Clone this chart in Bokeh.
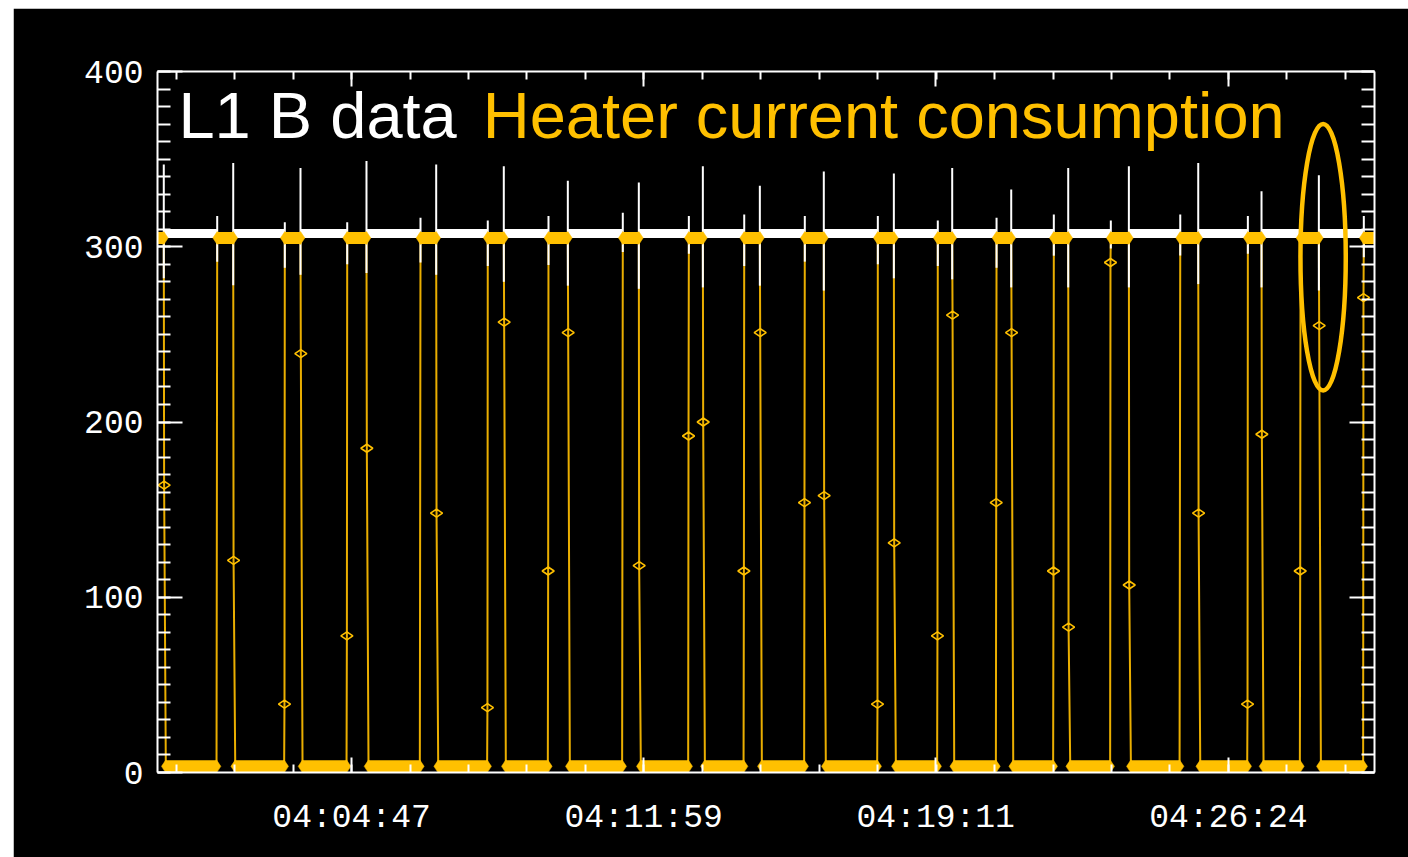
import math
from bokeh.plotting import figure
from bokeh.models import (Range1d, FixedTicker, SingleIntervalTicker, LinearAxis, Label,
                          Spacer, CustomJSTickFormatter)
from bokeh.layouts import row, column
from bokeh.embed import file_html
from bokeh.resources import INLINE

# ---------------- data (x = seconds after 04:00:00) ----------------
x_start, x_end = 0, 1800
y_start, y_end = 0, 400

on_level = 305.0      # heater current when ON
off_level = 3.5       # heater current when OFF
white_level = 307.5   # L1 B data level

# heater switching instants (s)
fall_times = [9.3, 112.0, 211.5, 309.1, 412.2, 512.2, 606.9, 711.9, 806.6, 890.9,
              985.5, 1089.1, 1175.4, 1262.7, 1347.0, 1436.7, 1539.3, 1632.9, 1717.7]
rise_times = [88.3, 188.3, 280.6, 389.0, 488.5, 578.3, 688.2, 785.9, 867.8, 957.4,
              1065.4, 1154.1, 1241.0, 1325.7, 1410.0, 1512.7, 1612.7, 1690.6, 1784.2]
# intermediate current samples caught during the switching (None = none)
fall_mid = [164, 121, 239, 185, 148, 257, 251, 118, 200, 251,
            158, 131, 261, 251, 83, 107, 148, 193, 255]
rise_mid = [None, 39, 78, None, 37, 115, None, 192, 115, 154,
            39, 78, 154, 115, 291, None, 39, 115, 271]

# L1 B data glitches at each switching instant
rise_spike_top = [317.5, 314, 314, 316.5, 315, 317.5, 319.4, 317.5, 318.4, 317.5,
                  317.5, 315, 316.5, 318.4, 315, 318.4, 317.5, 316, 317.5]
rise_spike_bottom = [291.5, 288, 290, 291, 289, 289.6, 297, 296, 289, 291.5,
                     290, 289, 288, 294.9, 299, 295, 296, 290, 294]
fall_spike_top = [347, 347.8, 345, 349, 347, 346, 337.6, 336.6, 346, 334.8,
                  343, 341.8, 345, 332.7, 345, 346, 347.8, 331.7, 340.8]
fall_spike_bottom = [282, 278, 284, 285, 284, 280, 277.8, 276, 276.8, 277.8,
                     275, 282, 281.4, 276.8, 276.8, 276.8, 278.7, 276.8, 275]

x_major_ticks = [287, 719, 1151, 1584]
x_major_labels = ["04:04:47", "04:11:59", "04:19:11", "04:26:24"]

title_white = "L1 B data"
title_orange = "Heater current consumption"

highlight_x = [1724]
highlight_y = [294]
highlight_w = [67]
highlight_h = [152]

# ---------------- styling ----------------
ORANGE = "#FFC000"
ORANGE_LINE = "#EAAE00"
WHITE = "#FFFFFF"
TICK_FONT = "Liberation Mono"

p = figure(width=1395, height=849, output_backend="svg", toolbar_location=None,
           x_range=Range1d(x_start, x_end), y_range=Range1d(y_start, y_end),
           min_border_left=144, min_border_right=34, min_border_top=63,
           min_border_bottom=85, background_fill_color="black",
           border_fill_color="black", outline_line_color=None,
           x_axis_location=None, y_axis_location=None)
p.grid.visible = False

# ---------------- build series ----------------
ox, oy = [x_start], [on_level]
on_segs = [(x_start, fall_times[0])]
off_segs = []
end_pts_x, end_pts_y = [], []
mid_x, mid_y = [], []
for i, tf in enumerate(fall_times):
    ox.append(tf); oy.append(on_level)
    if fall_mid[i] is not None:
        ox.append(tf + 0.5); oy.append(fall_mid[i])
        mid_x.append(tf + 0.5); mid_y.append(fall_mid[i])
    off_a = tf + 3
    ox.append(off_a); oy.append(off_level)
    tr = rise_times[i]
    off_b = tr - 1
    ox.append(off_b); oy.append(off_level)
    off_segs.append((off_a, off_b))
    if rise_mid[i] is not None:
        ox.append(tr - 0.5); oy.append(rise_mid[i])
        mid_x.append(tr - 0.5); mid_y.append(rise_mid[i])
    ox.append(tr); oy.append(on_level)
    nxt = fall_times[i + 1] if i + 1 < len(fall_times) else x_end
    on_segs.append((tr, nxt))
ox.append(x_end); oy.append(on_level)

# orange connecting line (drawn first)
p.line(ox, oy, line_color=ORANGE_LINE, line_width=2)

# white L1 B data: band during OFF periods
p.segment(x0=fall_times, y0=[white_level] * len(fall_times),
          x1=rise_times, y1=[white_level] * len(rise_times),
          line_color=WHITE, line_width=9, line_cap="butt")
# glitches
sx = rise_times + fall_times
stop = rise_spike_top + fall_spike_top
sbot = rise_spike_bottom + fall_spike_bottom
p.segment(x0=sx, y0=stop, x1=sx, y1=sbot, line_color=WHITE, line_width=2)

# orange dense sample plateaus
for segs, lvl in ((on_segs, on_level), (off_segs, off_level)):
    p.segment(x0=[a for a, b in segs], y0=[lvl] * len(segs),
              x1=[b for a, b in segs], y1=[lvl] * len(segs),
              line_color=ORANGE, line_width=12, line_cap="butt")
    for a, b in segs:
        end_pts_x += [a, b]
        end_pts_y += [lvl, lvl]
p.scatter(end_pts_x, end_pts_y, marker="diamond", size=13, fill_color=ORANGE,
          line_color=ORANGE, line_width=0.5)

# isolated samples
p.scatter(mid_x, mid_y, marker="diamond", size=12, angle=math.pi / 2,
          fill_color=None, line_color=ORANGE, line_width=1.6)

# highlight ellipse
p.ellipse(x=highlight_x, y=highlight_y, width=highlight_w, height=highlight_h,
          fill_color=None, line_color=ORANGE, line_width=4.5)

# titles
p.add_layout(Label(x=31, y=375, text=title_white, text_color=WHITE,
                   text_font="Liberation Sans", text_font_size="65px",
                   text_baseline="alphabetic"))
p.add_layout(Label(x=481, y=375, text=title_orange, text_color=ORANGE,
                   text_font="Liberation Sans", text_font_size="65px",
                   text_baseline="alphabetic"))

# ---------------- axes ----------------
minor_step = (x_major_ticks[-1] - x_major_ticks[0]) / (len(x_major_ticks) - 1) / 5
minors = []
k = -10
while True:
    v = x_major_ticks[0] + k * minor_step
    if v > x_end:
        break
    if v >= x_start:
        minors.append(v)
    k += 1
xticker = FixedTicker(ticks=x_major_ticks, minor_ticks=minors)
yticker = SingleIntervalTicker(interval=100, num_minor_ticks=10)
blank = CustomJSTickFormatter(code="return ''")


def style(ax, major_in, minor_in, show_labels):
    ax.axis_line_color = WHITE
    ax.axis_line_width = 2
    ax.major_tick_line_color = WHITE
    ax.minor_tick_line_color = WHITE
    ax.major_tick_line_width = 2
    ax.minor_tick_line_width = 2
    ax.major_tick_in = major_in
    ax.major_tick_out = 0
    ax.minor_tick_in = minor_in
    ax.minor_tick_out = 0
    if show_labels:
        ax.major_label_text_color = WHITE
        ax.major_label_text_font = TICK_FONT
        ax.major_label_text_font_size = "33px"
    else:
        ax.formatter = blank
        ax.major_label_standoff = 0


xb = LinearAxis(ticker=xticker,
                major_label_overrides={t: l for t, l in zip(x_major_ticks, x_major_labels)})
style(xb, 15, 8, True)
xb.major_label_standoff = 27
p.add_layout(xb, "below")

xt = LinearAxis(ticker=xticker)
style(xt, 15, 8, False)
p.add_layout(xt, "above")

yl = LinearAxis(ticker=yticker)
style(yl, 25, 13, True)
yl.major_label_standoff = 14
p.add_layout(yl, "left")

yr = LinearAxis(ticker=yticker)
style(yr, 25, 13, False)
p.add_layout(yr, "right")

layout = column(Spacer(width=1408, height=8),
                row(Spacer(width=13, height=849), p, spacing=0), spacing=0)

open("out.html", "w").write(file_html(layout, INLINE))
